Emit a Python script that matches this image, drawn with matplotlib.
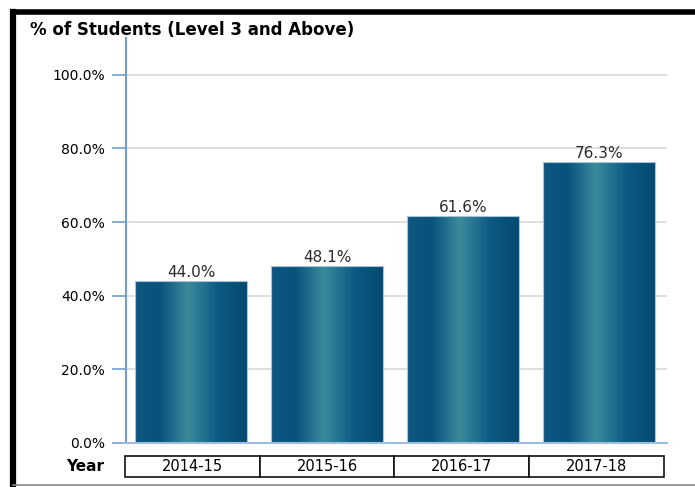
import numpy as np
import matplotlib.pyplot as plt
from matplotlib.colors import LinearSegmentedColormap
from matplotlib.lines import Line2D

# values
years = ["2014-15", "2015-16", "2016-17", "2017-18"]
pct = [44.0, 48.1, 61.6, 76.3]
yticks = [0, 20, 40, 60, 80, 100]

plt.rcParams['font.family'] = ['DejaVu Sans']

fig = plt.figure(figsize=(6.95, 4.87), dpi=100)
ax = fig.add_axes([123 / 695, 44 / 487, 544 / 695, 405 / 487])

x = np.arange(len(years))
bars = ax.bar(x, pct, width=0.82, color='none', edgecolor='#a9c3d8',
              linewidth=0.8, zorder=3)

# horizontal gradient inside each bar
grad = LinearSegmentedColormap.from_list(
    'bar', [(0.0, '#0d5882'), (0.22, '#08527c'), (0.47, '#3b8b9c'),
            (0.75, '#0b5a84'), (1.0, '#054a70')])
strip = np.linspace(0, 1, 256).reshape(1, -1)
for b in bars:
    x0, w, h = b.get_x(), b.get_width(), b.get_height()
    im = ax.imshow(strip, cmap=grad, aspect='auto',
                   extent=[x0, x0 + w, 0, h], zorder=2)
    im.set_clip_path(b)

for xi, v in zip(x, pct):
    ax.text(xi, v + 0.3, f"{v:.1f}%", ha='center', va='bottom',
            fontsize=11, color='#2a2a2a', zorder=4)

ax.set_xlim(-0.5, len(years) - 0.5)
ax.set_ylim(0, 110)
ax.set_yticks(yticks)
ax.set_yticklabels([f"{t:.1f}%" for t in yticks], fontsize=11, color='#2a2a2a')
ax.set_xticks([])
ax.grid(axis='y', color='#d9d9d9', linewidth=1.2, zorder=0)
ax.set_axisbelow(True)
for s in ['top', 'right']:
    ax.spines[s].set_visible(False)
ax.spines['left'].set_position(('data', -0.478))
ax.spines['left'].set_color('#6f9fd0')
ax.spines['left'].set_linewidth(1.5)
ax.spines['bottom'].set_color('#9dbde0')
ax.spines['bottom'].set_linewidth(1.5)
ax.tick_params(axis='y', length=10, width=1.2, color='#6f9fd0', pad=5)

# year table under the axis
tbl = ax.table(cellText=[years], cellLoc='center',
               bbox=[0.004, -0.085, 0.99, 0.054])
tbl.auto_set_font_size(False)
for cell in tbl.get_celld().values():
    cell.set_edgecolor('#111111')
    cell.set_linewidth(1.2)
    cell.get_text().set_fontsize(10.5)
ax.text(-0.035, -0.058, "Year", transform=ax.transAxes, ha='right',
        va='center', fontsize=11, fontweight='bold')

fig.text(30 / 695, 1 - 30 / 487, "% of Students (Level 3 and Above)",
         fontsize=12, fontweight='bold', va='center', ha='left')

# frame around the chart
fig.add_artist(Line2D([13 / 695, 1], [1 - 12 / 487] * 2, color='black',
                      linewidth=4, transform=fig.transFigure))
fig.add_artist(Line2D([13 / 695] * 2, [0, 1 - 12 / 487], color='black',
                      linewidth=4.5, transform=fig.transFigure))
fig.add_artist(Line2D([13 / 695, 1], [1 - 485 / 487] * 2, color='#888888',
                      linewidth=1.2, transform=fig.transFigure))

fig.savefig("out.png", dpi=100)
